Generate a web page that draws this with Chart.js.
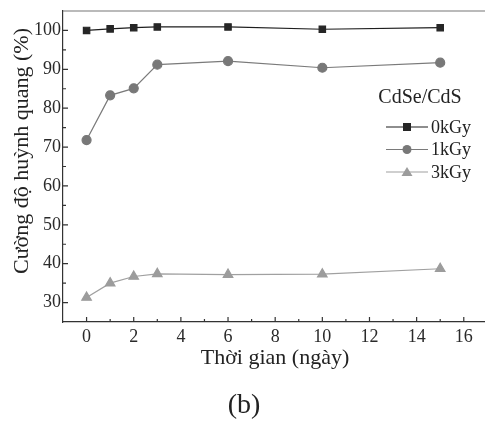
<!DOCTYPE html>
<html>
<head>
<meta charset="utf-8">
<script src="https://cdn.jsdelivr.net/npm/chart.js@4"></script>
<style>
  html, body { margin: 0; padding: 0; background: #fff; }
  #wrap { width: 485px; height: 429px; }
</style>
</head>
<body>
<div id="wrap"><canvas id="plChart" width="485" height="429"></canvas></div>
<script>
// số liệu
const days = [0, 1, 2, 3, 6, 10, 15];
const kGy0 = [100.0, 100.4, 100.7, 100.9, 100.9, 100.3, 100.7];
const kGy1 = [71.8, 83.3, 85.1, 91.2, 92.1, 90.4, 91.7];
const kGy3 = [31.3, 35.0, 36.7, 37.4, 37.2, 37.3, 38.7];
const seriesNames = ['0kGy', '1kGy', '3kGy'];

const xTicks = [0, 2, 4, 6, 8, 10, 12, 14, 16];
const xMinor = [1, 3, 5, 7, 9, 11, 13, 15];
const yTicks = [30, 40, 50, 60, 70, 80, 90, 100];
const yMinor = [35, 45, 55, 65, 75, 85, 95];

const legendTitle = 'CdSe/CdS';
const xTitle = 'Thời gian (ngày)';
const yTitle = 'Cường độ huỳnh quang (%)';
const panelLabel = '(b)';

const FONT = "'Liberation Serif', serif";
const AXIS = '#333';

Chart.defaults.font.family = FONT;

function pts(ys) {
    return days.map((d, i) => ({ x: d, y: ys[i] }));
}

// vẽ marker cho chú thích
function marker(ctx, style, x, y, color) {
    ctx.fillStyle = color;
    ctx.beginPath();
    if (style === 'rect') {
        ctx.rect(x - 4, y - 4, 8, 8);
    } else if (style === 'circle') {
        ctx.arc(x, y, 4.5, 0, Math.PI * 2);
    } else {
        ctx.moveTo(x, y - 5);
        ctx.lineTo(x + 5.5, y + 4);
        ctx.lineTo(x - 5.5, y + 4);
        ctx.closePath();
    }
    ctx.fill();
}

const extras = {
    id: 'extras',
    afterDraw(chart) {
        const ctx = chart.ctx;
        const a = chart.chartArea;
        const sx = chart.scales.x, sy = chart.scales.y;
        ctx.save();

        // khung trên
        ctx.strokeStyle = '#777';
        ctx.lineWidth = 1.2;
        ctx.beginPath();
        ctx.moveTo(a.left, a.top);
        ctx.lineTo(a.right, a.top);
        ctx.stroke();

        // vạch chia hướng vào trong
        ctx.strokeStyle = AXIS;
        ctx.beginPath();
        xTicks.forEach(v => { const p = sx.getPixelForValue(v); ctx.moveTo(p, a.bottom); ctx.lineTo(p, a.bottom - 5); });
        xMinor.forEach(v => { const p = sx.getPixelForValue(v); ctx.moveTo(p, a.bottom); ctx.lineTo(p, a.bottom - 3); });
        yTicks.forEach(v => { const p = sy.getPixelForValue(v); ctx.moveTo(a.left, p); ctx.lineTo(a.left + 5, p); });
        yMinor.forEach(v => { const p = sy.getPixelForValue(v); ctx.moveTo(a.left, p); ctx.lineTo(a.left + 3, p); });
        ctx.stroke();

        // tiêu đề trục
        ctx.fillStyle = '#222';
        ctx.textAlign = 'center';
        ctx.textBaseline = 'middle';
        ctx.font = '22px ' + FONT;
        ctx.fillText(xTitle, 275, 358);
        ctx.save();
        ctx.translate(22, 151);
        ctx.rotate(-Math.PI / 2);
        ctx.fillText(yTitle, 0, 0);
        ctx.restore();

        ctx.font = '28px ' + FONT;
        ctx.fillText(panelLabel, 244, 406);

        // chú thích
        ctx.font = '20px ' + FONT;
        ctx.fillText(legendTitle, 420, 98);
        ctx.font = '18px ' + FONT;
        ctx.textAlign = 'left';
        chart.data.datasets.forEach((ds, i) => {
            const yy = 127 + i * 22.5;
            ctx.strokeStyle = ds.borderColor;
            ctx.lineWidth = 1.2;
            ctx.beginPath();
            ctx.moveTo(386, yy);
            ctx.lineTo(428, yy);
            ctx.stroke();
            marker(ctx, ds.pointStyle, 407, yy, ds.pointBackgroundColor);
            ctx.fillStyle = '#222';
            ctx.fillText(ds.label, 431, yy + 1);
        });
        ctx.restore();
    }
};

const ctx = document.getElementById('plChart').getContext('2d');
new Chart(ctx, {
    type: 'line',
    data: {
        datasets: [
            {
                label: seriesNames[0], data: pts(kGy0),
                borderColor: '#1e1e1e', pointBackgroundColor: '#262626', pointBorderColor: '#262626',
                pointStyle: 'rect', pointRadius: 4.5, borderWidth: 1.2
            },
            {
                label: seriesNames[1], data: pts(kGy1),
                borderColor: '#7a7a7a', pointBackgroundColor: '#787878', pointBorderColor: '#787878',
                pointStyle: 'circle', pointRadius: 4.5, borderWidth: 1.2
            },
            {
                label: seriesNames[2], data: pts(kGy3),
                borderColor: '#a0a0a0', pointBackgroundColor: '#9c9c9c', pointBorderColor: '#9c9c9c',
                pointStyle: 'triangle', pointRadius: 5.5, borderWidth: 1.2
            }
        ]
    },
    options: {
        responsive: false,
        animation: false,
        layout: { autoPadding: false, padding: { top: 11, right: 0, left: 0, bottom: 0 } },
        plugins: { legend: { display: false }, tooltip: { enabled: false } },
        scales: {
            x: {
                type: 'linear', min: -1, max: 16.9,
                afterBuildTicks: s => { s.ticks = xTicks.map(v => ({ value: v })); },
                afterFit: s => { s.height = 107; s.paddingLeft = 0; s.paddingRight = 0; },
                grid: { drawOnChartArea: false, drawTicks: false },
                border: { color: AXIS, width: 1.2 },
                ticks: { color: '#2a2a2a', padding: 4, font: { family: FONT, size: 18 }, maxRotation: 0 }
            },
            y: {
                type: 'linear', min: 25, max: 105,
                afterBuildTicks: s => { s.ticks = yTicks.map(v => ({ value: v })); },
                afterFit: s => { s.width = 63; s.paddingTop = 0; s.paddingBottom = 0; },
                grid: { drawOnChartArea: false, drawTicks: false },
                border: { color: AXIS, width: 1.2 },
                ticks: { color: '#2a2a2a', padding: 2, font: { family: FONT, size: 18 } }
            }
        }
    },
    plugins: [extras]
});
</script>
</body>
</html>
